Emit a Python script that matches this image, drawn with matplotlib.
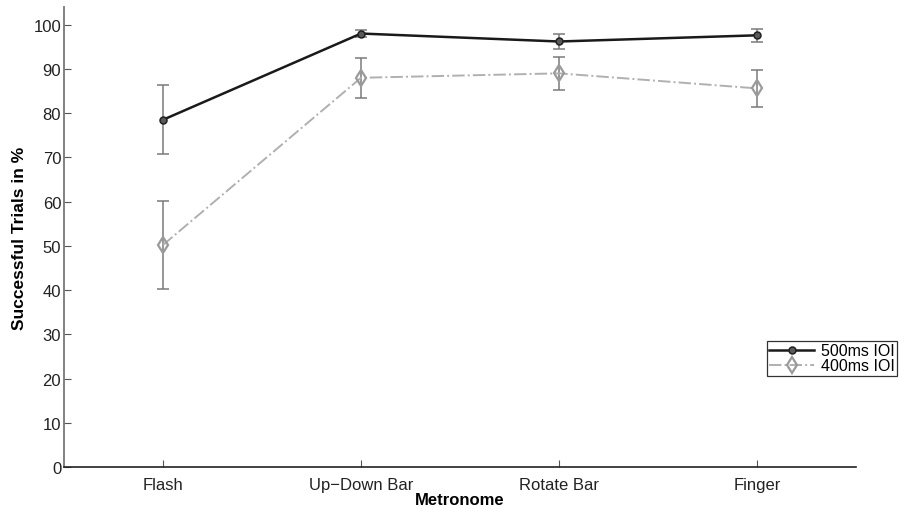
import matplotlib
matplotlib.use("Agg")
import matplotlib.pyplot as plt
import numpy as np

plt.rcParams['font.family'] = ['Liberation Sans', 'DejaVu Sans']

categories = ["Flash", "Up\u2212Down Bar", "Rotate Bar", "Finger"]
mean_500 = [78.5, 98.0, 96.2, 97.6]
err_500 = [7.8, 0.75, 1.65, 1.4]
mean_400 = [50.2, 88.0, 89.0, 85.6]
err_400 = [9.95, 4.55, 3.8, 4.15]
labels = ["500ms IOI", "400ms IOI"]
yticks = list(range(0, 101, 10))

fig = plt.figure(figsize=(8.99, 5.10), dpi=100)
ax = fig.add_axes([64/899, 1-468/510, (856-64)/899, (468-8)/510])

x = np.arange(1, len(categories) + 1)

for m, e in [(mean_400, err_400), (mean_500, err_500)]:
    _, caps, bars = ax.errorbar(x, m, yerr=e, fmt='none', ecolor='#7a7a7a', elinewidth=1.1,
                                capsize=4.5, capthick=1.1, zorder=2)
    for c in caps:
        c.set_color('#333333')

l1, = ax.plot(x, mean_500, '-', color='#1a1a1a', lw=1.8, marker='o', markersize=5,
              markerfacecolor='#5a5a5a', markeredgecolor='#222222', markeredgewidth=1.1, zorder=4)
l2, = ax.plot(x, mean_400, '-.', color='#b0b0b0', lw=1.4, marker='d', markersize=8,
              markerfacecolor='none', markeredgecolor='#9a9a9a', markeredgewidth=1.6, zorder=3)

ax.set_xlim(0.5, 4.5)
ax.set_ylim(0, 104)
ax.set_xticks(x)
ax.set_xticklabels(categories, fontsize=12, color='#222222')
ax.set_yticks(yticks)
ax.set_yticklabels([str(t) for t in yticks], fontsize=12, color='#222222')
ax.tick_params(direction='in', length=5, color='#555555')
ax.tick_params(axis='x', pad=7)
ax.tick_params(axis='y', pad=2)
ax.spines['top'].set_visible(False)
ax.spines['right'].set_visible(False)
ax.spines['left'].set_color('#777777')
ax.spines['left'].set_linewidth(1.3)
ax.spines['bottom'].set_color('#222222')
ax.spines['bottom'].set_linewidth(1.2)
ax.set_xlabel("Metronome", fontsize=12, fontweight='bold', labelpad=0)
ax.set_ylabel("Successful Trials in %", fontsize=12.5, fontweight='bold', labelpad=5)

leg = fig.legend([l1, l2], labels, loc='upper left', bbox_to_anchor=(767/899, 1-342/510),
                 fontsize=11.5, frameon=True, fancybox=False, edgecolor='black',
                 borderpad=0.15, handlelength=2.8, handletextpad=0.4, labelspacing=0.0,
                 borderaxespad=0)
leg.get_frame().set_linewidth(0.9)

fig.savefig("out.png", dpi=100)
